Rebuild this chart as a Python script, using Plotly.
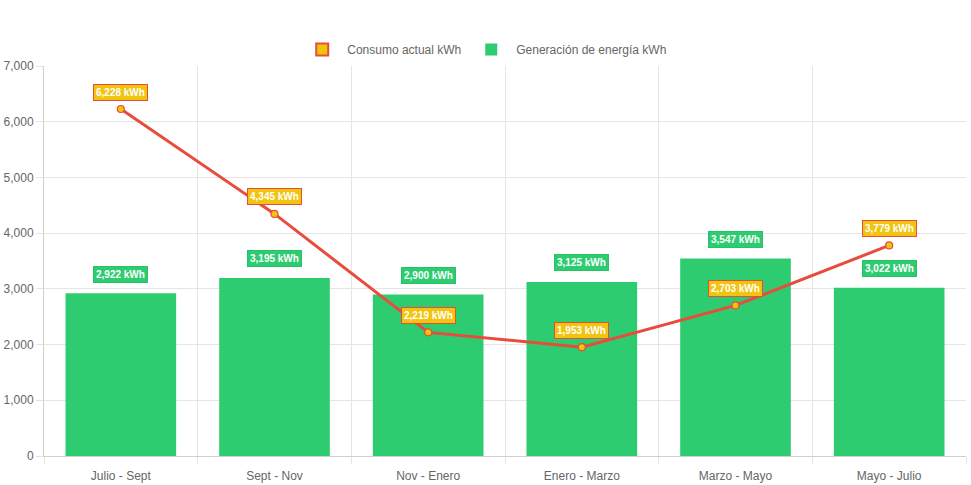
import plotly.graph_objects as go

categories = ["Julio - Sept", "Sept - Nov", "Nov - Enero", "Enero - Marzo", "Marzo - Mayo", "Mayo - Julio"]
consumo = [6228, 4345, 2219, 1953, 2703, 3779]
generacion = [2922, 3195, 2900, 3125, 3547, 3022]
y_ticks = [0, 1000, 2000, 3000, 4000, 5000, 6000, 7000]

GREEN = "#2ecc71"
RED = "#e74c3c"
YELLOW = "#f1c40f"
FONT = "Liberation Sans, Arial, Helvetica, sans-serif"

fig = go.Figure()

fig.add_trace(go.Bar(
    x=categories, y=generacion, name="Generación de energía kWh",
    marker=dict(color=GREEN, line=dict(width=0)),
    width=0.72, legendrank=2,
))
fig.add_trace(go.Scatter(
    x=categories, y=consumo, name="Consumo actual kWh", mode="lines+markers",
    line=dict(color=RED, width=3),
    marker=dict(size=7, color=YELLOW, line=dict(color=RED, width=1.2)),
    showlegend=False,
))
# legend-only entry showing a filled box like the original
fig.add_trace(go.Bar(
    x=categories, y=[None] * len(categories), name="Consumo actual kWh",
    marker=dict(color=YELLOW, line=dict(color=RED, width=2)),
    legendrank=1, hoverinfo="skip",
))

annotations = []
for c, v in zip(categories, generacion):
    annotations.append(dict(
        x=c, y=v, xref="x", yref="y", text=f"<b>{v:,} kWh</b>", showarrow=False,
        yshift=19, font=dict(color="white", size=10, family=FONT),
        bgcolor=GREEN, bordercolor="#27c267", borderwidth=1, borderpad=2,
    ))
for c, v in zip(categories, consumo):
    annotations.append(dict(
        x=c, y=v, xref="x", yref="y", text=f"<b>{v:,} kWh</b>", showarrow=False,
        yshift=17, font=dict(color="white", size=10, family=FONT),
        bgcolor=YELLOW, bordercolor=RED, borderwidth=1, borderpad=2,
    ))

fig.update_layout(
    width=971, height=485,
    margin=dict(l=44, r=5, t=66, b=29, autoexpand=False),
    paper_bgcolor="white", plot_bgcolor="white",
    font=dict(family=FONT, size=12, color="#666666"),
    barmode="overlay",
    showlegend=True,
    legend=dict(orientation="h", x=0.478, xanchor="center", y=1.042, yanchor="middle",
                font=dict(size=12, color="#666666"), itemwidth=40, traceorder="normal"),
    annotations=annotations,
    hovermode=False,
)
fig.update_xaxes(
    automargin=False,
    tickson="boundaries", showgrid=True, gridcolor="#e5e5e5", gridwidth=1,
    ticks="outside", ticklen=7, tickcolor="#e5e5e5", ticklabelstandoff=9,
    showline=True, linecolor="#d0d0d0", linewidth=1, mirror=False,
    tickfont=dict(size=12, color="#666666"),
)
fig.update_yaxes(
    automargin=False,
    range=[0, 7000], tickvals=y_ticks, tickformat=",",
    showgrid=True, gridcolor="#e5e5e5", gridwidth=1,
    ticks="outside", ticklen=7, tickcolor="#e5e5e5",
    showline=True, linecolor="#d0d0d0", linewidth=1,
    zeroline=False,
    tickfont=dict(size=12, color="#666666"),
)

fig.write_html(
    "out.html",
    config={"displayModeBar": False},
    post_script="document.body.style.margin='0';document.body.style.overflow='hidden';",
)
